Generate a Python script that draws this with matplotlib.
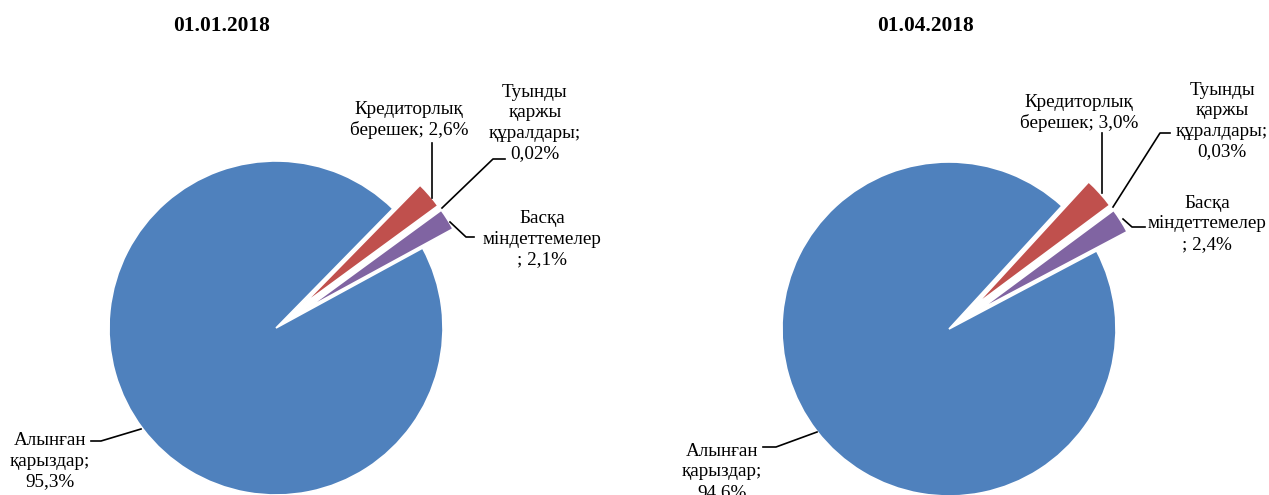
import numpy as np
import matplotlib.pyplot as plt

plt.rcParams['font.family'] = ['Liberation Serif', 'DejaVu Serif']

# data
categories = ["Алынған қарыздар", "Кредиторлық берешек",
              "Туынды қаржы құралдары", "Басқа міндеттемелер"]
dates = ["01.01.2018", "01.04.2018"]
shares_jan = [95.3, 2.6, 0.02, 2.1]
shares_apr = [94.6, 3.0, 0.03, 2.4]
label_jan = ["Алынған\nқарыздар;\n95,3%", "Кредиторлық\nберешек; 2,6%",
             "Туынды\nқаржы\nқұралдары;\n0,02%", "Басқа\nміндеттемелер\n; 2,1%"]
label_apr = ["Алынған\nқарыздар;\n94,6%", "Кредиторлық\nберешек; 3,0%",
             "Туынды\nқаржы\nқұралдары;\n0,03%", "Басқа\nміндеттемелер\n; 2,4%"]

colors = ["#4F81BD", "#C0504D", "#9BBB59", "#8064A2"]

W, H = 1269, 495
fig = plt.figure(figsize=(W / 100, H / 100), dpi=100)
ax = fig.add_axes([0, 0, 1, 1])
ax.set_xlim(0, W)
ax.set_ylim(0, H)
ax.set_aspect('equal')
ax.axis('off')


def Y(y):
    # image row -> data y
    return H - y


# one entry per pie: center, start angle, title x, label boxes, leader lines
pies = [
    dict(vals=shares_jan, labels=label_jan, title=dates[0], cx=276, cy=328,
         start=28.6, tx=222,
         text_pos=[(50, 461), (409, 120), (535, 123), (542, 239)],
         leaders=[[(141, 429), (101, 441), (91, 441)],
                  [(432, 198), (432, 143)],
                  [(442, 208), (493, 159), (505, 159)],
                  [(450, 222), (466, 237), (474, 237)]]),
    dict(vals=shares_apr, labels=label_apr, title=dates[1], cx=949, cy=329,
         start=27.9, tx=925,
         text_pos=[(722, 472), (1079, 113), (1222, 121), (1207, 224)],
         leaders=[[(817, 432), (776, 447), (763, 447)],
                  [(1102, 193), (1102, 133)],
                  [(1113, 207), (1160, 133), (1170, 133)],
                  [(1123, 219), (1132, 227), (1145, 227)]]),
]

for p in pies:
    ax.pie(p['vals'], colors=colors, center=(p['cx'], Y(p['cy'])), radius=167,
           startangle=p['start'], counterclock=False,
           explode=[0, 36, 36, 36],
           wedgeprops=dict(edgecolor='white', linewidth=1.2))
    ax.text(p['tx'], Y(26), p['title'], ha='center', va='center',
            fontsize=15.4, fontweight='bold')
    for (x, y), lab in zip(p['text_pos'], p['labels']):
        ax.text(x, Y(y), lab, ha='center', va='center', fontsize=13.8,
                linespacing=1.28)
    for seg in p['leaders']:
        xs = [s[0] for s in seg]
        ys = [Y(s[1]) for s in seg]
        ax.plot(xs, ys, color='black', linewidth=1.2)

ax.set_xlim(0, W)
ax.set_ylim(0, H)
fig.savefig('out.png', dpi=100)
